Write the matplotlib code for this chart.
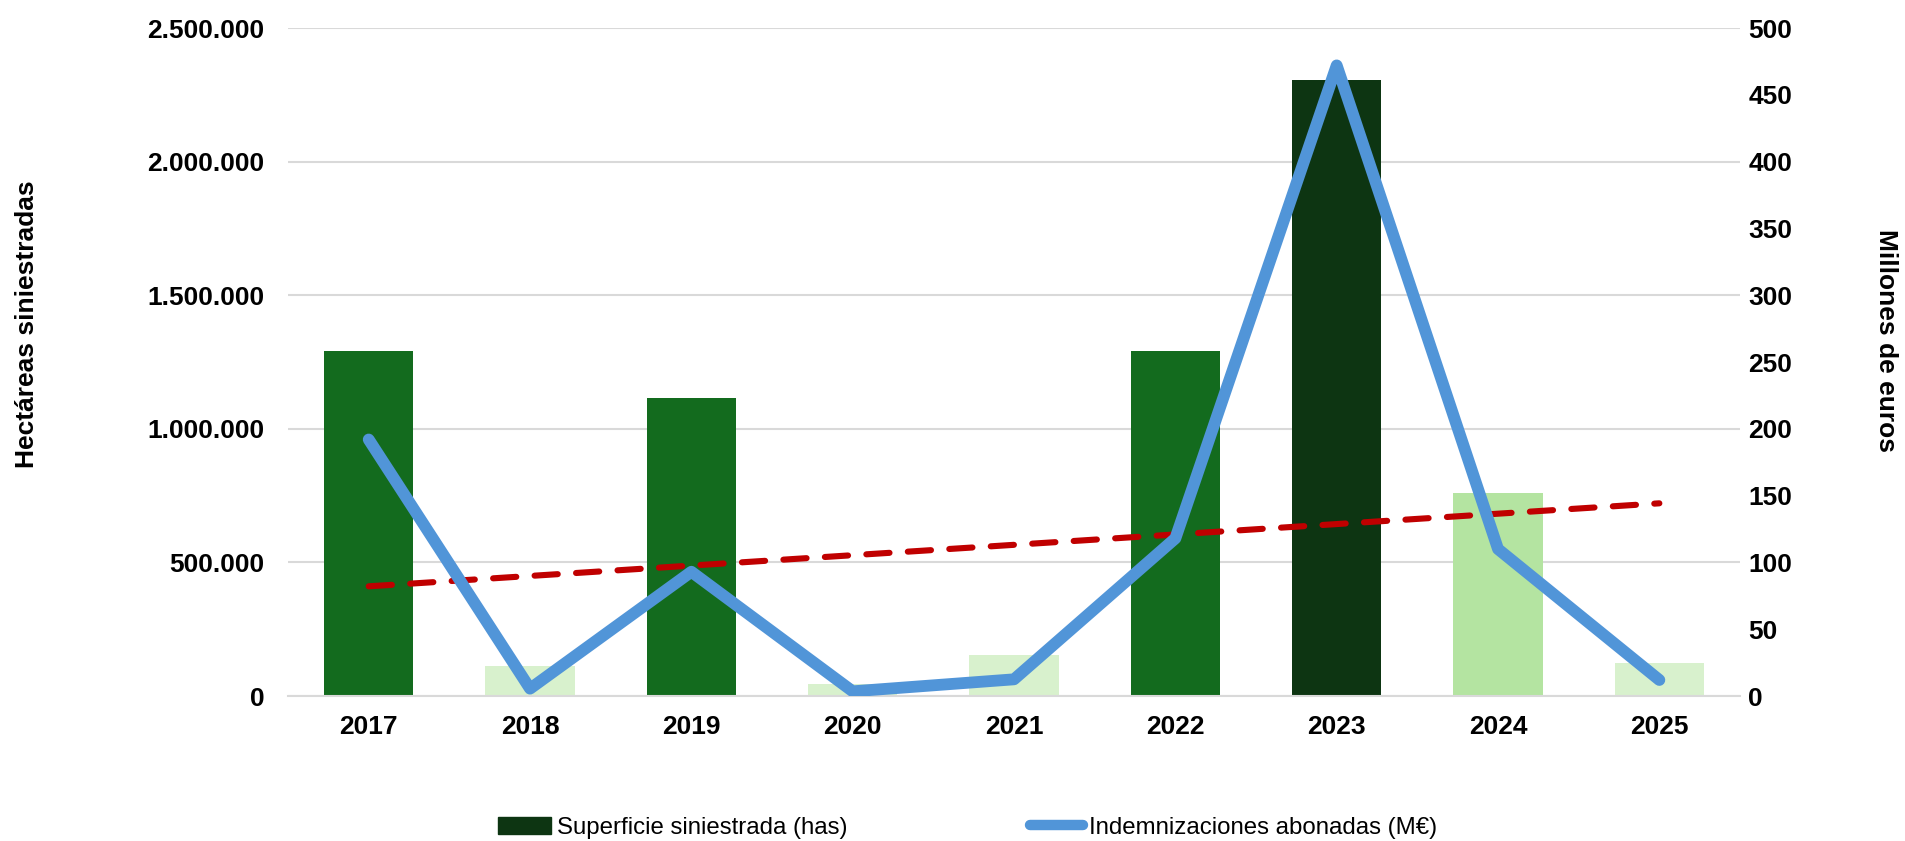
import numpy as np
import matplotlib
matplotlib.use("Agg")
import matplotlib.pyplot as plt
from matplotlib.ticker import FuncFormatter, MultipleLocator
from matplotlib.patches import Patch
from matplotlib.lines import Line2D

# data
years = ["2017", "2018", "2019", "2020", "2021", "2022", "2023", "2024", "2025"]
superficie = [1290000, 112000, 1115000, 45000, 155000, 1292000, 2305000, 759000, 123000]
indemnizaciones = [192, 5.5, 93, 3.5, 12.5, 118, 472, 110, 12]
bar_colors = ["#136b1e", "#d8f1cd", "#136b1e", "#d8f1cd", "#d8f1cd",
              "#136b1e", "#0d3512", "#b4e4a1", "#d8f1cd"]

plt.rcParams['font.family'] = ['Liberation Sans', 'DejaVu Sans']

fig = plt.figure(figsize=(19.05, 8.41), dpi=100)
ax = fig.add_axes([0.1512, 0.1724, 0.7622, 0.7943])
ax2 = ax.twinx()

x = np.arange(len(years))
ax.bar(x, superficie, width=0.555, color=bar_colors, zorder=2)

# trend line of the compensation series (linear fit)
slope, intercept = np.polyfit(x, indemnizaciones, 1)
ax2.plot(x, slope * x + intercept, color="#c00000", lw=4.4,
         dashes=(3.8, 3.0), dash_capstyle="round", zorder=3)
ax2.plot(x, indemnizaciones, color="#5195d8", lw=8.5,
         solid_capstyle="round", solid_joinstyle="round", zorder=4)

ax.set_xlim(-0.5, len(years) - 0.5)
ax.set_ylim(0, 2500000)
ax2.set_ylim(0, 500)
ax.yaxis.set_major_locator(MultipleLocator(500000))
ax2.yaxis.set_major_locator(MultipleLocator(50))
ax.yaxis.set_major_formatter(FuncFormatter(lambda v, p: f"{int(v):,}".replace(",", ".")))

ax.set_xticks(x)
ax.set_xticklabels(years)
ax.grid(axis="y", color="#d9d9d9", lw=1.5, zorder=0)
ax.set_axisbelow(True)
for a in (ax, ax2):
    for s in a.spines.values():
        s.set_visible(False)
    a.tick_params(length=0, labelsize=19)
    for lab in a.get_xticklabels() + a.get_yticklabels():
        lab.set_fontweight("bold")
ax.spines["bottom"].set_visible(True)
ax.spines["bottom"].set_color("#d9d9d9")
ax.spines["bottom"].set_linewidth(1.5)
ax.tick_params(axis="y", pad=17)
ax.tick_params(axis="x", pad=14)
ax2.tick_params(axis="y", pad=6)

fig.text(0.014, 0.615, "Hectáreas siniestradas", rotation=90, ha="center", va="center",
         fontsize=19, fontweight="bold")
fig.text(0.99, 0.595, "Millones de euros", rotation=270, ha="center", va="center",
         fontsize=19, fontweight="bold")

handles = [Patch(color="#0d3512"),
           Line2D([0], [0], color="#5195d8", lw=7.5, solid_capstyle="round")]
fig.legend(handles, ["Superficie siniestrada (has)", "Indemnizaciones abonadas (M€)"],
           loc="center", bbox_to_anchor=(0.508, 0.016), ncol=2, frameon=False,
           fontsize=17.3, handlelength=2.2, handletextpad=0.25, columnspacing=7.6)

fig.savefig("out.png", dpi=100)
